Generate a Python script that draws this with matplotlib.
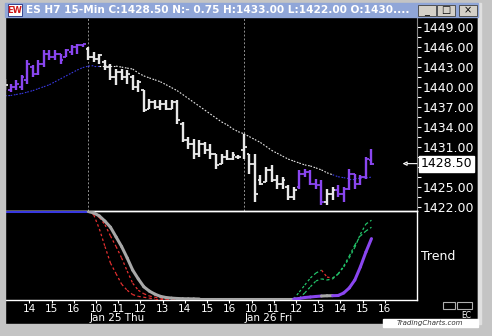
import matplotlib
matplotlib.use("Agg")
import matplotlib.pyplot as plt
from matplotlib.patches import Rectangle
import numpy as np

# ---- data (bar index 0 = Jan 24 12:45) ----
bar_high = [1441.25, 1440.5, 1441.0, 1441.75, 1444.0, 1443.25, 1444.0, 1445.5, 1445.5, 1445.5, 1445.0, 1445.75, 1446.25, 1446.5, 1446.5,
            1446.0, 1445.25, 1445.0, 1444.0, 1443.5, 1442.75, 1442.75, 1442.5, 1441.75, 1441.0, 1439.5, 1438.25, 1438.0, 1438.0,
            1438.0, 1438.0, 1438.0, 1434.75, 1432.5, 1432.25, 1432.0, 1431.75, 1431.5, 1430.0, 1430.0, 1430.5, 1430.25, 1429.75,
            1433.0, 1430.0, 1430.0, 1426.75, 1428.0, 1428.25, 1426.75, 1426.5, 1425.25, 1425.0, 1427.5, 1427.75, 1427.5, 1426.25,
            1426.0, 1424.75, 1425.0, 1425.25, 1425.0, 1427.75, 1427.0, 1426.75, 1429.5, 1430.75]
bar_low = [1439.5, 1439.25, 1439.5, 1439.5, 1440.5, 1441.5, 1441.75, 1443.0, 1444.0, 1444.0, 1443.5, 1444.5, 1444.75, 1445.0, 1446.0,
           1444.0, 1443.75, 1443.5, 1442.5, 1441.0, 1440.25, 1441.0, 1440.5, 1439.5, 1439.25, 1436.25, 1436.75, 1436.75, 1436.5,
           1436.5, 1436.75, 1434.5, 1431.75, 1430.75, 1429.25, 1429.5, 1430.0, 1429.25, 1427.75, 1428.5, 1429.0, 1429.0, 1429.25,
           1429.25, 1427.0, 1422.75, 1425.25, 1425.75, 1425.75, 1424.75, 1424.75, 1423.0, 1423.0, 1424.75, 1426.5, 1425.25, 1424.75,
           1422.25, 1422.25, 1423.0, 1423.5, 1422.75, 1424.5, 1424.75, 1425.25, 1426.25, 1428.25]
bar_open = [1440.5, 1439.5, 1440.0, 1440.0, 1441.0, 1443.0, 1442.0, 1443.5, 1445.0, 1444.5, 1445.0, 1444.5, 1445.25, 1446.0, 1446.25,
            1445.75, 1444.5, 1444.25, 1443.75, 1443.0, 1441.5, 1442.25, 1441.5, 1441.5, 1440.0, 1439.5, 1436.75, 1437.75, 1437.0,
            1437.5, 1436.75, 1437.75, 1434.5, 1432.0, 1431.5, 1430.0, 1431.5, 1430.5, 1430.0, 1428.5, 1429.5, 1429.25, 1429.5,
            1430.5, 1430.0, 1428.5, 1426.0, 1425.75, 1427.5, 1426.0, 1425.5, 1425.0, 1423.5, 1425.0, 1427.0, 1427.25, 1425.5,
            1425.25, 1422.75, 1424.0, 1424.5, 1424.0, 1424.75, 1427.0, 1425.5, 1426.5, 1429.0]
bar_close = [1440.25, 1440.0, 1440.5, 1441.5, 1443.5, 1442.0, 1443.5, 1445.0, 1444.5, 1445.0, 1444.0, 1445.5, 1446.0, 1446.25, 1446.5,
             1444.5, 1444.25, 1444.75, 1443.0, 1441.5, 1442.25, 1441.5, 1442.0, 1440.0, 1440.75, 1436.5, 1437.75, 1437.0, 1437.5,
             1436.75, 1437.75, 1435.0, 1432.0, 1431.5, 1430.0, 1431.5, 1430.5, 1430.0, 1428.25, 1429.5, 1429.25, 1429.75, 1429.5,
             1431.0, 1428.5, 1424.0, 1425.5, 1427.5, 1426.0, 1425.5, 1426.0, 1423.5, 1424.5, 1427.0, 1427.25, 1425.5, 1425.25,
             1422.75, 1424.0, 1424.5, 1424.0, 1424.75, 1427.0, 1425.5, 1426.5, 1429.25, 1428.5]
# w = white bar, p = purple bar
bar_kind = "w" + "p" * 14 + "w" * 38 + "p" * 5 + "w" * 2 + "p" * 7

ma_value = [1438.68, 1438.72, 1438.87, 1439.01, 1439.23, 1439.45, 1439.75, 1440.04, 1440.34, 1440.78, 1441.22, 1441.66, 1442.10,
            1442.54, 1442.91, 1443.13, 1443.20, 1443.20, 1443.20, 1443.13, 1443.13, 1442.98, 1442.83, 1442.69, 1442.10, 1441.66,
            1441.36, 1441.07, 1440.78, 1440.34, 1439.90, 1439.45, 1438.87, 1438.28, 1437.69, 1437.11, 1436.52, 1435.93, 1435.34,
            1434.76, 1434.32, 1433.73, 1433.29, 1432.99, 1432.55, 1432.11, 1431.67, 1431.09, 1430.50, 1430.06, 1429.62, 1429.18,
            1428.88, 1428.59, 1428.30, 1428.15, 1427.85, 1427.56, 1427.12, 1426.83, 1426.53, 1426.39, 1426.24, 1426.24, 1426.31,
            1426.39, 1426.46]
# b = blue (rising), w = white (falling)
ma_kind = "b" * 18 + "w" * 42 + "b" * 7

# lower "Trend" pane, 0..100
trend = [100, 100, 100, 100, 100, 100, 100, 100, 100, 100, 100, 100, 100, 100, 100, 100,
         98.3, 94.9, 89, 82, 71, 60, 47, 33, 23, 14, 9, 5.5, 3, 1.7, 1, 0.6, 0.3, 0.2, 0.1,
         0, 0, 0, 0, 0, 0, 0, 0, 0, 0, 0, 0, 0, 0, 0, 0, 0, 0,
         0.6, 1.7, 2.3, 2.9, 3.4, 3.7, 3.8, 4, 6.9, 12.6, 21.7, 36.6, 53.7, 69]
trend_kind = "b" * 16 + "g" * 37 + "p" * 5 + "g" * 2 + "p" * 7
lead_a = [100, 100, 100, 100, 100, 100, 100, 100, 100, 100, 100, 100, 100, 100, 100, 100,
          96, 80, 60, 41, 29, 17, 10, 5, 3, 2, 1,
          0, 0, 0, 0, 0, 0, 0, 0, 0, 0, 0, 0, 0, 0, 0, 0, 0, 0, 0, 0, 0, 0, 0, 0, 0, 0,
          8, 16, 24, 29.7, 33, 25, 24, 28.6, 36.6, 47, 59, 74, 85.7, 90]
lead_a_kind = "G" * 16 + "R" * 37 + "G" * 5 + "R" * 2 + "G" * 7
lead_b = [100, 100, 100, 100, 100, 100, 100, 100, 100, 100, 100, 100, 100, 100, 100, 100,
          98, 93, 85, 72, 60, 47, 32, 18, 10, 6, 3.5, 2, 1,
          0, 0, 0, 0, 0, 0, 0, 0, 0, 0, 0, 0, 0, 0, 0, 0, 0, 0, 0, 0, 0, 0, 0, 0,
          1, 7, 14, 20.6, 23, 21.7, 23, 28.6, 37.7, 49, 61.7, 72, 77.7, 82]
lead_b_kind = "G" * 16 + "R" * 37 + "G" * 14

day_start = [15, 43]
day_labels = ["Jan 25 Thu", "Jan 26 Fri"]
hour_bar = [5, 9, 13, 17, 21, 25, 29, 33, 37, 41, 45, 49, 53, 57, 61, 65, 69]
hour_labels = ["14", "15", "16", "10", "11", "12", "13", "14", "15", "16",
               "10", "11", "12", "13", "14", "15", "16"]
price_ticks = [1422, 1425, 1428, 1431, 1434, 1437, 1440, 1443, 1446, 1449]
last_price = 1428.50
title = "ES H7 15-Min C:1428.50 N:- 0.75 H:1433.00 L:1422.00 O:1430...."

W, H = 492, 336
PURPLE = "#8a46f0"
WHITE = "#e8e8e8"
BLUE = "#3838e0"
GRAY = "#a8a8a8"
RED = "#e83030"
GREEN = "#22c46a"
FRAME = "#c4c4c4"
COLS = {"w": WHITE, "p": PURPLE, "b": BLUE, "g": GRAY, "R": RED, "G": GREEN}


def px_box(x0, y0, x1, y1):
    return [x0 / W, 1 - y1 / H, (x1 - x0) / W, (y1 - y0) / H]


def fig_rect(fig, x0, y0, x1, y1, **kw):
    r = Rectangle((x0 / W, 1 - y1 / H), (x1 - x0) / W, (y1 - y0) / H,
                  transform=fig.transFigure, **kw)
    fig.patches.append(r)
    return r


def seg_plot(ax, x, y, kinds, **kw):
    # draw a polyline piece by piece, colour taken from the end point
    for i in range(len(x) - 1):
        ax.plot(x[i:i + 2], y[i:i + 2], color=COLS[kinds[i + 1]], **kw)


fig = plt.figure(figsize=(W / 100, H / 100), dpi=100, facecolor="black")

# window frame + title bar
fig_rect(fig, 0, 0, W, 3, color=FRAME, zorder=5)
fig_rect(fig, 0, 0, 5, H, color=FRAME, zorder=5)
fig_rect(fig, 478, 0, W, H, color=FRAME, zorder=5)
fig_rect(fig, 0, 324, W, H, color=FRAME, zorder=5)
fig_rect(fig, 478, 3, 481, 324, color="#e0e0e0", zorder=5)
fig_rect(fig, 5, 3, 478, 17, color="#90a6d8", zorder=6)
fig_rect(fig, 8, 4, 22, 16, color="white", ec="#203080", lw=0.6, zorder=7)
fig.text(15 / W, 1 - 10.5 / H, "EW", color="#d01818", fontsize=6, fontweight="bold",
         ha="center", va="center", zorder=8)
fig.text(26 / W, 1 - 10 / H, title, color="white", fontsize=7.6, fontweight="bold",
         ha="left", va="center", zorder=8)
for bx0, bx1, sym in [(418, 436, "_"), (437, 455, "□"), (459, 477, "×")]:
    fig_rect(fig, bx0, 4.5, bx1, 16, color="#d4d0c8", ec="#404040", lw=0.6, zorder=7)
    fig.text((bx0 + bx1) / 2 / W, 1 - 10.5 / H, sym, color="black", fontsize=7,
             ha="center", va="center", zorder=8)

xmin, xmax = -0.18, 74.2
idx = np.arange(len(bar_high))

# ---- price pane ----
ax = fig.add_axes(px_box(4, 17, 417, 211), facecolor="black")
ax.set_xlim(xmin, xmax)
ax.set_ylim(1421.39, 1449.88)

for d in day_start:
    ax.axvline(d, color="#909090", lw=0.7, ls=(0, (2, 2)), zorder=1)

bcol = [COLS[k] for k in bar_kind]
ax.vlines(idx, bar_low, bar_high, colors=bcol, lw=1.7, zorder=3)
ax.hlines(bar_open, idx - 0.5, idx, colors=bcol, lw=1.3, zorder=3)
ax.hlines(bar_close, idx, idx + 0.5, colors=bcol, lw=1.3, zorder=3)

seg_plot(ax, idx, ma_value, ma_kind, lw=0.8, ls=(0, (1.5, 1.5)), zorder=2)

ax.yaxis.tick_right()
ax.set_yticks(price_ticks)
# the 1428 label sits under the last-price box
ax.set_yticklabels(["" if t == 1428 else "%.2f" % t for t in price_ticks])
ax.set_yticks(np.array(price_ticks) + 1.5, minor=True)
ax.tick_params(axis="y", which="both", colors="white", labelcolor="white",
               labelsize=9, length=3, width=0.8, pad=1)
ax.set_xticks([])
for s in ["top", "left"]:
    ax.spines[s].set_visible(False)
ax.spines["bottom"].set_color("white")
ax.spines["bottom"].set_linewidth(1)
ax.spines["right"].set_color("#8a8a8a")
ax.spines["right"].set_linestyle((0, (1, 1)))

ytr = ax.get_yaxis_transform()
ax.annotate("", xy=(0.965, last_price), xytext=(1.0, last_price), xycoords=ytr,
            arrowprops=dict(arrowstyle="-|>", color="white", fc="black", lw=0.8,
                            mutation_scale=6, shrinkA=0, shrinkB=0),
            annotation_clip=False, zorder=4)
ax.text(1.009, last_price, "%.2f" % last_price, transform=ytr, color="black",
        fontsize=9, va="center", ha="left", zorder=10, clip_on=False,
        bbox=dict(boxstyle="square,pad=0.12", fc="white", ec="white"))

# ---- trend pane ----
ax2 = fig.add_axes(px_box(4, 211, 417, 300), facecolor="none")
ax2.set_zorder(1)
ax2.set_xlim(xmin, xmax)
ax2.set_ylim(-1.14, 100.57)

seg_plot(ax2, idx, lead_a, lead_a_kind, lw=0.9, ls=(0, (2, 2)), zorder=3)
seg_plot(ax2, idx, lead_b, lead_b_kind, lw=0.9, ls=(0, (2, 2)), zorder=3)
seg_plot(ax2, idx, trend, trend_kind, lw=2.2, solid_capstyle="round", zorder=4)

ax2.set_yticks([])
ax2.set_xticks(np.array(hour_bar) - 0.6)
ax2.set_xticklabels(hour_labels)
ax2.tick_params(axis="x", colors="white", labelcolor="white", labelsize=7.5,
                length=2.5, width=0.8, pad=0.5)
ax2.spines["left"].set_visible(False)
for s in ["top", "bottom", "right"]:
    ax2.spines[s].set_color("white")
    ax2.spines[s].set_linewidth(1)
xtr = ax2.get_xaxis_transform()
for d, lab in zip(day_start, day_labels):
    ax2.text(d + 0.2, -0.2, lab, transform=xtr, color="white", fontsize=7.5,
             ha="left", va="center", clip_on=False)

fig.text(421 / W, 1 - 256 / H, "Trend", color="white", fontsize=9, ha="left", va="center")

# bottom-right widgets
fig_rect(fig, 443, 302, 455, 309, fill=False, ec="#b0b0b0", lw=0.8)
fig_rect(fig, 457, 302, 472, 309, fill=False, ec="#b0b0b0", lw=0.8)
fig.text(466 / W, 1 - 315.5 / H, "EC", color="white", fontsize=5.5, ha="center", va="center")
fig_rect(fig, 383, 319, 478, 327, color="white", zorder=6)
fig.text(430 / W, 1 - 323 / H, "TradingCharts.com", color="#303030", fontsize=5,
         style="italic", ha="center", va="center", zorder=7)

fig.savefig("out.png", dpi=100, facecolor=fig.get_facecolor())
